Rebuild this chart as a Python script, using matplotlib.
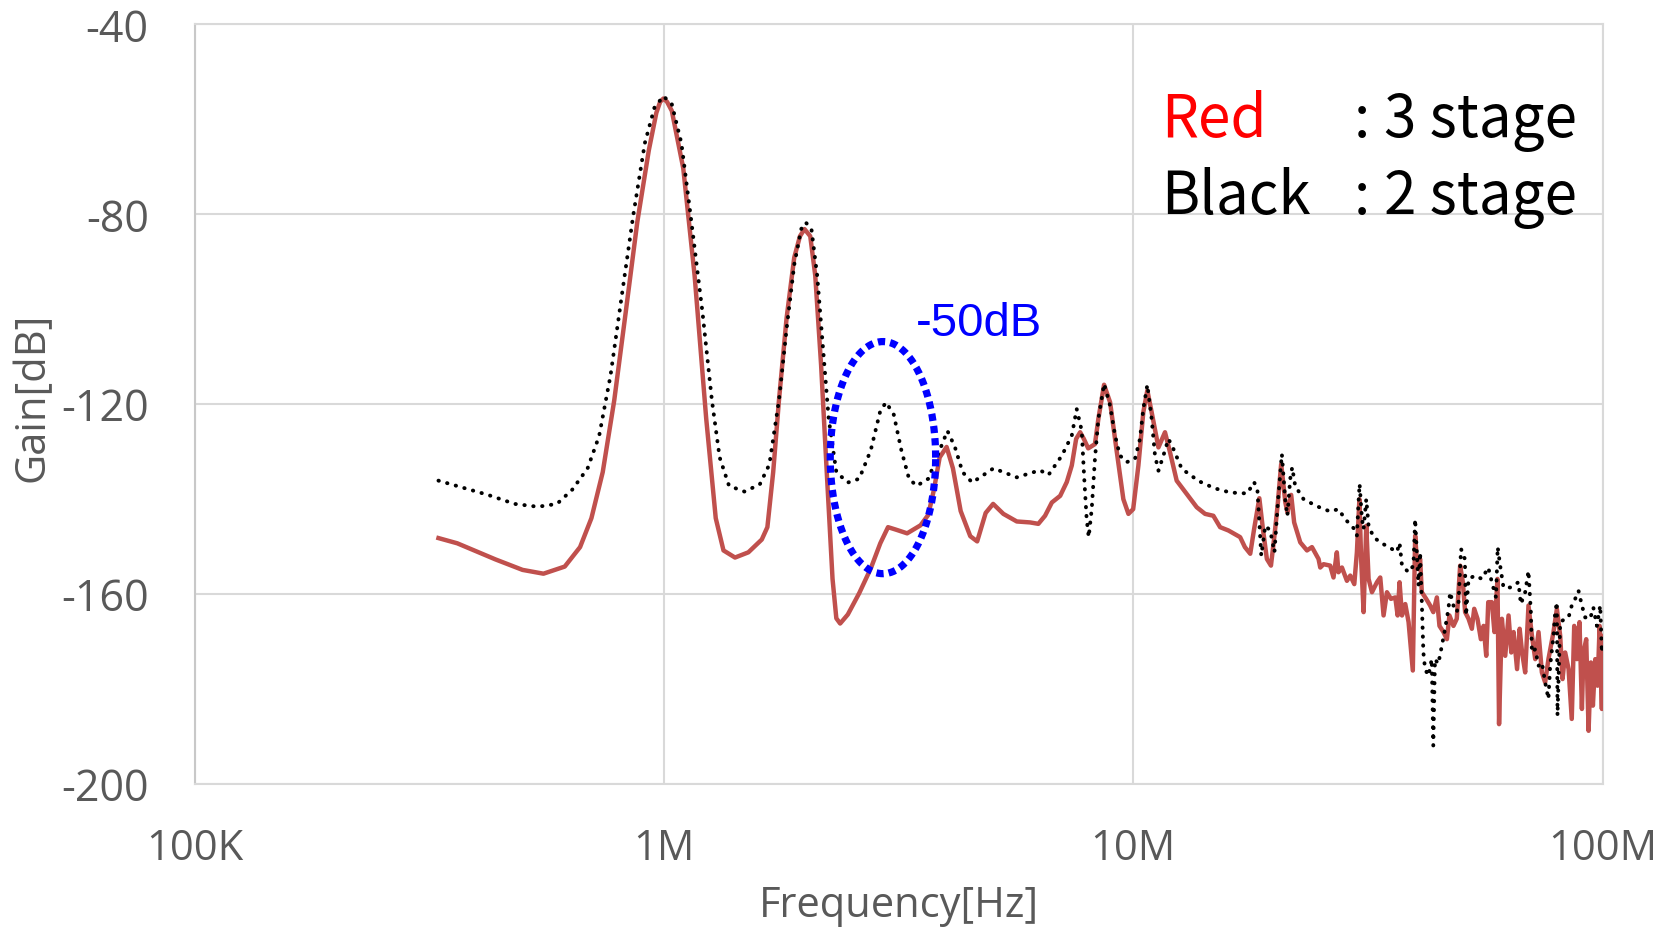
import numpy as np
import matplotlib
matplotlib.use("Agg")
import matplotlib.pyplot as plt

# ---------------- data ----------------
# Frequencies in MHz, gain in dB
black_freq_mhz = [0.331, 0.422, 0.481, 0.539, 0.592, 0.638, 0.688, 0.728, 0.770, 0.815,
                  0.861, 0.911, 0.955, 0.998, 1.04, 1.09, 1.14, 1.208, 1.266, 1.315,
                  1.377, 1.485, 1.601, 1.678, 1.759, 1.826, 1.896, 1.962, 2.006, 2.063,
                  2.122, 2.183, 2.245, 2.331, 2.466, 2.608, 2.76, 2.892, 2.975, 3.09,
                  3.207, 3.33, 3.457, 3.66, 3.87, 4.02, 4.17, 4.33, 4.54, 4.85,
                  5.04, 5.65, 6.33, 6.6, 7.05, 7.4, 7.58, 7.77, 7.86, 7.96,
                  8.04, 8.16, 8.29, 8.43, 8.67, 8.93, 9.15, 9.37, 9.69, 10.09,
                  10.34, 10.51, 10.72, 10.95, 11.13, 11.32, 11.6, 11.89, 12.18, 12.69,
                  13.8, 14.9, 16.1, 17.5, 18.1, 18.4, 18.59, 18.75, 19.12, 19.59,
                  20.0, 20.34, 20.74, 21.08, 21.31, 21.61, 21.82, 22.14, 23.07, 24.64,
                  26.29, 27.38, 28.29, 29.48, 29.97, 30.21, 30.37, 30.73, 30.97, 31.38,
                  31.74, 32.53, 33.61, 35.30, 36.48, 36.95, 37.39, 38.62, 39.55, 39.89,
                  40.54, 40.87, 41.21, 41.53, 41.88, 42.57, 43.27, 43.6, 43.96, 44.68,
                  45.47, 46.2, 46.96, 47.35, 48.13, 48.92, 49.3, 49.96, 50.9, 51.2,
                  51.83, 53.52, 55.33, 57.09, 58.11, 59.3, 59.8, 60.53, 61.52, 63.57,
                  66.2, 67.0, 68.43, 69.55, 70.37, 70.74, 71.89, 73.06, 74.27, 75.48,
                  76.7, 77.36, 78.63, 79.29, 79.95, 80.19, 81.26, 83.27, 84.67, 86.0,
                  87.46, 88.9, 90.39, 91.86, 94.14, 95.6, 97.28, 98.88, 99.7, 100.0]
black_gain_db = [-136.2, -139.2, -141.1, -141.7, -141.1, -138.1, -133.6, -126.8, -114.0, -96.7,
                 -80.2, -65.1, -57.6, -55.2, -56.9, -65.1, -80.2, -100.5, -119.3, -131.3,
                 -137.3, -138.5, -137.0, -132.8, -119.3, -104.3, -90.7, -83.2, -81.8, -83.2,
                 -93.0, -108.0, -123.1, -134.4, -136.6, -135.8, -129.8, -121.5, -119.7, -122.3,
                 -129.8, -135.8, -137.3, -135.8, -129.8, -125.7, -129.1, -134.4, -136.6, -134.7,
                 -133.6, -135.5, -134.0, -135.0, -130.9, -126.7, -121.1, -125.7, -135.2, -144.3,
                 -148.1, -142.2, -131.6, -123.2, -115.8, -120.4, -126.7, -130.9, -132.3, -131.6,
                 -127.4, -121.1, -116.0, -123.2, -130.9, -134.1, -130.9, -127.4, -129.5, -133.7,
                 -136.3, -137.8, -138.7, -138.9, -136.5, -138.3, -145.7, -152.0, -145.7, -146.7,
                 -151.3, -140.8, -130.6, -140.1, -143.6, -135.8, -133.4, -137.3, -140.1, -141.6,
                 -142.7, -142.2, -144.3, -146.2, -147.8, -140.8, -136.9, -144.3, -146.4, -140.1,
                 -145.7, -148.1, -149.2, -150.4, -151.2, -149.3, -154.1, -155.5, -154.1, -144.3,
                 -158.3, -151.3, -161.8, -172.4, -175.9, -177.3, -173.8, -192.0, -173.8, -174.8,
                 -171.0, -167.4, -163.2, -159.7, -162.5, -163.9, -162.5, -150.6, -152.7, -164.6,
                 -156.9, -156.2, -156.9, -154.5, -157.6, -160.8, -150.2, -154.1, -158.7, -158.7,
                 -157.6, -162.2, -159.7, -155.2, -163.9, -172.4, -171.7, -175.2, -174.5, -178.7,
                 -182.2, -175.2, -168.9, -163.9, -161.8, -185.7, -166.0, -165.3, -165.0, -162.5,
                 -161.1, -159.4, -162.5, -165.0, -165.3, -162.9, -166.8, -162.5, -172.4, -170.0]

red_freq_mhz = [0.331, 0.363, 0.438, 0.500, 0.554, 0.615, 0.663, 0.701, 0.741, 0.784,
                0.830, 0.878, 0.929, 0.964, 0.982, 0.998, 1.016, 1.04, 1.10, 1.163,
                1.231, 1.29, 1.34, 1.418, 1.514, 1.617, 1.662, 1.71, 1.759, 1.826,
                1.896, 1.95, 1.994, 2.051, 2.102, 2.163, 2.224, 2.288, 2.331, 2.375,
                2.466, 2.608, 2.76, 2.892, 3.004, 3.118, 3.299, 3.524, 3.66, 3.763,
                3.87, 4.004, 4.13, 4.29, 4.497, 4.652, 4.85, 5.03, 5.29, 5.65,
                6.03, 6.28, 6.49, 6.71, 6.99, 7.22, 7.4, 7.56, 7.71, 7.85,
                8.02, 8.29, 8.43, 8.67, 8.93, 9.23, 9.53, 9.77, 10.0, 10.26,
                10.51, 10.72, 10.95, 11.32, 11.69, 11.98, 12.38, 13.0, 13.66, 14.23,
                14.82, 15.32, 15.96, 16.9, 17.3, 17.76, 18.1, 18.57, 18.9, 19.27,
                19.66, 20.0, 20.34, 20.67, 21.1, 21.31, 21.71, 22.03, 22.7, 23.46,
                24.04, 24.83, 25.04, 25.45, 26.29, 26.72, 27.16, 27.38, 27.85, 28.54,
                29.01, 29.59, 29.97, 30.34, 30.6, 30.97, 31.38, 31.74, 32.27, 33.07,
                33.61, 34.16, 34.73, 35.42, 36.18, 36.6, 36.95, 37.39, 38.0, 38.62,
                39.43, 39.89, 40.33, 40.87, 41.21, 42.1, 42.93, 43.6, 44.37, 44.94,
                45.83, 46.61, 47.19, 48.13, 48.92, 49.74, 50.4, 50.97, 51.83, 52.68,
                53.29, 54.15, 55.06, 55.79, 56.53, 57.09, 58.11, 58.85, 59.73, 60.2,
                61.04, 62.05, 63.07, 63.92, 64.66, 65.76, 66.6, 67.4, 68.43, 69.55,
                70.74, 71.89, 73.06, 74.27, 75.48, 76.7, 78.63, 79.95, 81.26, 82.2,
                83.27, 84.67, 86.0, 87.04, 88.18, 89.33, 90.39, 91.1, 92.32, 93.4,
                94.46, 95.4, 96.5, 97.6, 98.6, 99.7, 100.0]
red_gain_db = [-148.3, -149.4, -152.8, -155.0, -155.8, -154.3, -150.2, -144.1, -134.4, -119.3,
               -100.5, -81.7, -66.6, -58.7, -56.4, -55.7, -56.4, -58.3, -70.4, -93.0,
               -123.1, -144.1, -150.9, -152.4, -151.3, -148.6, -146.0, -134.4, -119.3, -102.0,
               -89.2, -84.7, -83.2, -84.7, -93.0, -111.8, -134.4, -156.9, -165.2, -166.3,
               -164.4, -159.9, -154.7, -149.4, -146.0, -146.5, -147.3, -145.6, -143.4, -138.1,
               -131.3, -129.1, -133.6, -142.6, -147.9, -149.0, -143.0, -141.1, -143.2, -144.8,
               -145.0, -145.3, -143.6, -140.8, -139.4, -136.5, -133.0, -127.4, -126.0, -127.4,
               -129.4, -128.5, -123.2, -116.0, -119.7, -130.2, -140.1, -143.2, -142.2, -133.0,
               -121.8, -117.2, -121.8, -129.2, -126.0, -130.2, -136.2, -139.0, -141.8, -143.2,
               -143.6, -146.0, -146.7, -148.1, -150.2, -151.6, -146.4, -139.9, -146.4, -152.7,
               -154.1, -147.8, -140.8, -132.7, -140.8, -142.9, -139.2, -145.0, -149.2, -150.9,
               -150.2, -152.7, -154.5, -153.8, -154.1, -156.6, -151.3, -155.5, -154.5, -157.3,
               -156.2, -158.0, -151.3, -140.1, -152.7, -163.9, -145.7, -156.9, -159.7, -157.6,
               -156.6, -164.6, -159.7, -161.1, -160.8, -164.6, -157.6, -164.6, -162.2, -166.0,
               -176.2, -147.8, -154.8, -152.7, -159.7, -161.1, -162.5, -163.9, -160.8, -166.8,
               -168.1, -169.6, -164.6, -166.8, -165.3, -154.1, -157.6, -163.9, -165.3, -167.4,
               -163.2, -165.3, -169.6, -166.8, -173.1, -161.8, -161.8, -168.1, -156.9, -187.5,
               -165.3, -173.1, -164.6, -172.4, -168.1, -175.9, -167.4, -172.4, -176.6, -162.5,
               -168.9, -173.8, -168.1, -176.6, -178.7, -173.8, -168.1, -163.2, -168.9, -178.0,
               -172.4, -175.9, -186.4, -166.8, -173.8, -166.0, -184.3, -172.4, -169.6, -188.9,
               -174.5, -183.6, -173.8, -179.4, -166.8, -184.3, -168.9]

x_ticks = [1e5, 1e6, 1e7, 1e8]
x_tick_labels = ["100K", "1M", "10M", "100M"]
y_ticks = [-200, -160, -120, -80, -40]

# annotation ellipse (centre frequency, centre gain, half-width in decades, half-height in dB)
ellipse_center_hz = 2.93e6
ellipse_center_db = -131.35
ellipse_half_decades = 0.1123
ellipse_half_db = 24.45

# ---------------- figure ----------------
W, H = 1669, 928
fig = plt.figure(figsize=(W / 100, H / 100), dpi=100)
ax = fig.add_axes([194.5 / W, 1 - 784.5 / H, (1602.5 - 194.5) / W, (784.5 - 25) / H])

grid_col = "#d9d9d9"
text_col = "#595959"
tick_font = "Open Sans"

ax.set_xscale("log")
ax.set_xlim(1e5, 1e8)
ax.set_ylim(-200, -40)
ax.set_xticks(x_ticks)
ax.set_xticklabels(x_tick_labels)
ax.minorticks_off()
ax.set_yticks(y_ticks)
ax.set_yticklabels([str(v) for v in y_ticks])
ax.tick_params(axis="both", length=0, colors=text_col)
ax.tick_params(axis="x", pad=31, labelsize=30)
ax.tick_params(axis="y", pad=33, labelsize=31)
for lab in ax.get_xticklabels() + ax.get_yticklabels():
    lab.set_fontfamily(tick_font)

ax.grid(True, which="major", color=grid_col, linewidth=1.5)
ax.set_axisbelow(True)
for side in ["top", "right", "bottom"]:
    ax.spines[side].set_color(grid_col)
    ax.spines[side].set_linewidth(1.5)
ax.spines["left"].set_color("#c8c8c8")
ax.spines["left"].set_linewidth(1.5)

red_f = np.array(red_freq_mhz) * 1e6
blk_f = np.array(black_freq_mhz) * 1e6
ax.plot(red_f, red_gain_db, color="#C0504D", linewidth=3.2, solid_joinstyle="round", zorder=3)
ax.plot(blk_f, black_gain_db, color="black", linewidth=2.8, linestyle=(0, (0.1, 2.2)),
        dash_capstyle="round", zorder=4)

t = np.linspace(0, 2 * np.pi, 400)
ex = 10 ** (np.log10(ellipse_center_hz) + ellipse_half_decades * np.cos(t))
ey = ellipse_center_db + ellipse_half_db * np.sin(t)
ax.plot(ex, ey, color="#0000FF", linewidth=5.2, linestyle=(0, (1, 0.7)),
        dash_capstyle="butt", zorder=5)

ax.text(3.45e6, -103, "-50dB", color="#0000FF", fontsize=34, family="Liberation Sans",
        ha="left", va="center", zorder=6)

ax.set_xlabel("Frequency[Hz]", fontsize=30, color=text_col, family=tick_font)
ax.xaxis.set_label_coords(0.5, (784.5 - 928 + 1) / 759.5)
ax.xaxis.label.set_va("bottom")
ax.set_ylabel("Gain[dB]", fontsize=30, color=text_col, family=tick_font)
ax.yaxis.set_label_coords((54 - 194.5) / 1408, (784.5 - 397) / 759.5)

leg_font = ["Noto Sans CJK JP", "DejaVu Sans"]
leg_size = 42
fig.text(1161 / W, 1 - 137.3 / H, "Red", color="#FF0000", fontsize=leg_size, family=leg_font,
         ha="left", va="baseline")
fig.text(1161 / W, 1 - 214 / H, "Black", color="black", fontsize=leg_size, family=leg_font,
         ha="left", va="baseline")
for yb, lbl in [(137.3, "3 stage"), (214, "2 stage")]:
    fig.text(1362 / W, 1 - yb / H, ":", color="black", fontsize=leg_size, family=leg_font,
             ha="center", va="baseline")
    fig.text(1384 / W, 1 - yb / H, lbl, color="black", fontsize=leg_size, family=leg_font,
             ha="left", va="baseline")

fig.savefig("out.png", dpi=100, facecolor="white")
